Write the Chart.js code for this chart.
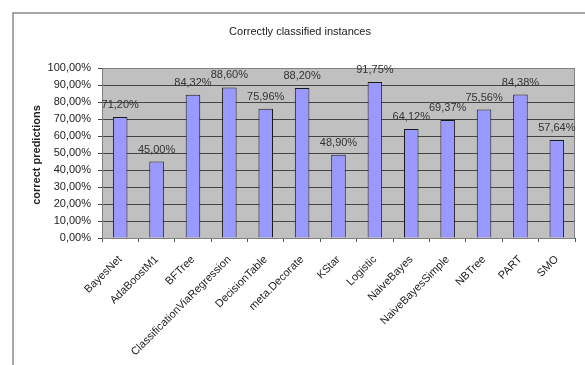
<!DOCTYPE html>
<html>
<head>
<meta charset="utf-8">
<script src="https://cdn.jsdelivr.net/npm/chart.js@4.4.1/dist/chart.umd.min.js"></script>
<style>
  html, body { margin: 0; padding: 0; background: #fff; }
  #wrap { width: 585px; height: 365px; position: relative; }
</style>
</head>
<body>
<div id="wrap"><canvas id="chart" width="585" height="365"></canvas></div>
<script>
// Correctly classified instances per classifier

const CLASSIFIERS = [
    'BayesNet', 'AdaBoostM1', 'BFTree', 'ClassificationViaRegression',
    'DecisionTable', 'meta.Decorate', 'KStar', 'Logistic', 'NaiveBayes',
    'NaiveBayesSimple', 'NBTree', 'PART', 'SMO'
];

const CORRECT = [
    0.7120, 0.4500, 0.8432, 0.8860, 0.7596, 0.8820, 0.4890,
    0.9175, 0.6412, 0.6937, 0.7556, 0.8438, 0.5764
];

const TITLE = 'Correctly classified instances';
const Y_TITLE = 'correct predictions';

const FONT = '"Liberation Sans", Arial, sans-serif';
const TEXT = '#222';

function fmtPercent(v) {
    return (v * 100).toFixed(2).replace('.', ',') + '%';
}

// frame, titles and value labels drawn straight on the canvas
const decorations = {
    id: 'decorations',
    beforeDraw(chart) {
        const ctx = chart.ctx;
        const area = chart.chartArea;
        ctx.save();
        ctx.fillStyle = '#fff';
        ctx.fillRect(0, 0, chart.width, chart.height);

        // chart frame
        ctx.strokeStyle = '#8a8a8a';
        ctx.lineWidth = 1.5;
        ctx.beginPath();
        ctx.moveTo(13, chart.height);
        ctx.lineTo(13, 13);
        ctx.lineTo(chart.width, 13);
        ctx.stroke();

        // plot background
        ctx.fillStyle = '#c0c0c0';
        ctx.fillRect(area.left, area.top, area.right - area.left, area.bottom - area.top);
        ctx.restore();
    },
    afterDraw(chart) {
        const ctx = chart.ctx;
        const area = chart.chartArea;
        ctx.save();

        // plot border
        ctx.strokeStyle = '#808080';
        ctx.lineWidth = 1;
        ctx.strokeRect(area.left + 0.5, area.top + 0.5, area.right - area.left - 1, area.bottom - area.top);

        ctx.fillStyle = TEXT;
        ctx.textAlign = 'center';
        ctx.textBaseline = 'middle';
        ctx.font = '11px ' + FONT;
        ctx.fillText(TITLE, 300, 32);

        ctx.save();
        ctx.translate(37, 155);
        ctx.rotate(-Math.PI / 2);
        ctx.font = 'bold 11px ' + FONT;
        ctx.fillText(Y_TITLE, 0, 0);
        ctx.restore();

        // value labels above bars
        ctx.fillStyle = '#333';
        ctx.font = '11px ' + FONT;
        const meta = chart.getDatasetMeta(0);
        meta.data.forEach((bar, i) => {
            ctx.fillText(fmtPercent(CORRECT[i]), bar.x, bar.y - 12);
        });
        ctx.restore();
    }
};

new Chart(document.getElementById('chart').getContext('2d'), {
    type: 'bar',
    data: {
        labels: CLASSIFIERS,
        datasets: [{
            data: CORRECT,
            backgroundColor: '#9999ff',
            borderColor: '#1a1a1a',
            borderWidth: 1,
            borderSkipped: 'bottom',
            barPercentage: 0.4,
            categoryPercentage: 1
        }]
    },
    options: {
        responsive: false,
        animation: false,
        devicePixelRatio: 1,
        layout: { padding: { top: 68, right: 10, left: 0, bottom: 0 } },
        plugins: {
            legend: { display: false },
            title: { display: false },
            tooltip: { enabled: false }
        },
        scales: {
            x: {
                offset: true,
                afterFit: (scale) => { scale.height = 127; },
                grid: {
                    offset: true,
                    drawOnChartArea: false,
                    drawTicks: true,
                    tickLength: 4,
                    color: '#555'
                },
                border: { display: false },
                ticks: {
                    minRotation: 45,
                    maxRotation: 45,
                    autoSkip: false,
                    padding: 11,
                    color: TEXT,
                    font: { family: FONT, size: 11 }
                }
            },
            y: {
                min: 0,
                max: 1,
                afterFit: (scale) => { scale.width = 102; },
                grid: {
                    color: '#444',
                    lineWidth: 1,
                    tickLength: 4
                },
                border: { display: false },
                ticks: {
                    stepSize: 0.1,
                    padding: 7,
                    color: TEXT,
                    font: { family: FONT, size: 11 },
                    callback: (v) => fmtPercent(v)
                }
            }
        }
    },
    plugins: [decorations]
});
</script>
</body>
</html>
